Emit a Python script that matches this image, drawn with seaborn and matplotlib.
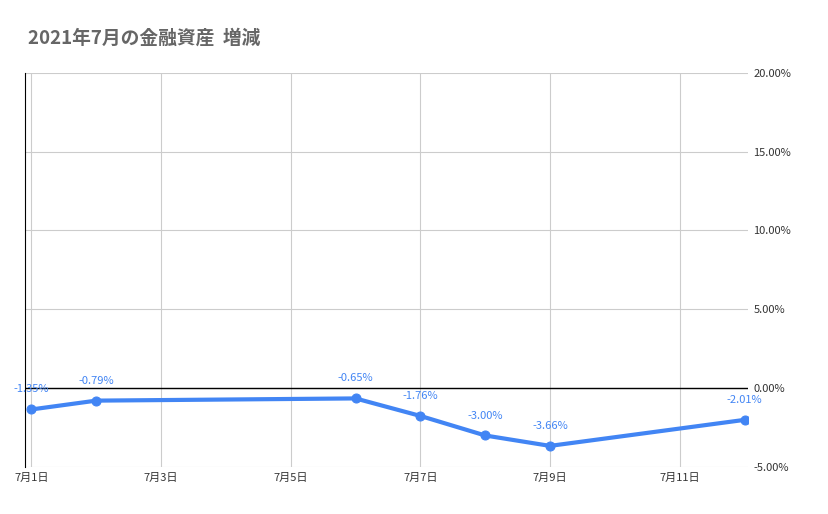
import matplotlib
matplotlib.use("Agg")
import matplotlib.pyplot as plt
import seaborn as sns
import pandas as pd

days = [1, 2, 6, 7, 8, 9, 12]
values = [-1.35, -0.79, -0.65, -1.76, -3.00, -3.66, -2.01]
labels = ["-1.35%", "-0.79%", "-0.65%", "-1.76%", "-3.00%", "-3.66%", "-2.01%"]
xticks = [1, 3, 5, 7, 9, 11]
xticklabels = ["7月1日", "7月3日", "7月5日", "7月7日", "7月9日", "7月11日"]
yticks = [-5, 0, 5, 10, 15, 20]

sns.set_style("white")
plt.rcParams['font.family'] = ['Noto Sans CJK JP', 'DejaVu Sans']

df = pd.DataFrame({"day": days, "val": values})
fig = plt.figure(figsize=(8.29, 5.14), dpi=100)
ax = fig.add_axes([0.030, 0.0914, 0.872, 0.767])
color = "#4285f4"
sns.lineplot(data=df, x="day", y="val", ax=ax, color=color, linewidth=3,
             marker="o", markersize=6.5, markeredgecolor=color, zorder=3)
for d, v, l in zip(days, values, labels):
    ax.text(d, v + 0.95, l, ha="center", va="bottom", color=color, fontsize=8)

ax.set_xlim(0.9, 12.05)
ax.set_ylim(-5, 20)
ax.set_xticks(xticks)
ax.set_xticklabels(xticklabels, fontsize=8, color="#333333")
ax.set_yticks(yticks)
ax.set_yticklabels([f"{y:.2f}%" for y in yticks], fontsize=8, color="#333333")
ax.yaxis.tick_right()
ax.grid(True, color="#cccccc", linewidth=0.8)
ax.axhline(0, color="black", linewidth=1, zorder=2)
for s in ["top", "right", "bottom"]:
    ax.spines[s].set_visible(False)
ax.spines["left"].set_color("black")
ax.tick_params(length=0, pad=4)
ax.set_xlabel("")
ax.set_ylabel("")
fig.text(0.034, 0.925, "2021年7月の金融資産  増減", fontsize=13.5, fontweight="bold",
         color="#666666", ha="left", va="center")
fig.savefig("out.png", dpi=100, facecolor="white")
